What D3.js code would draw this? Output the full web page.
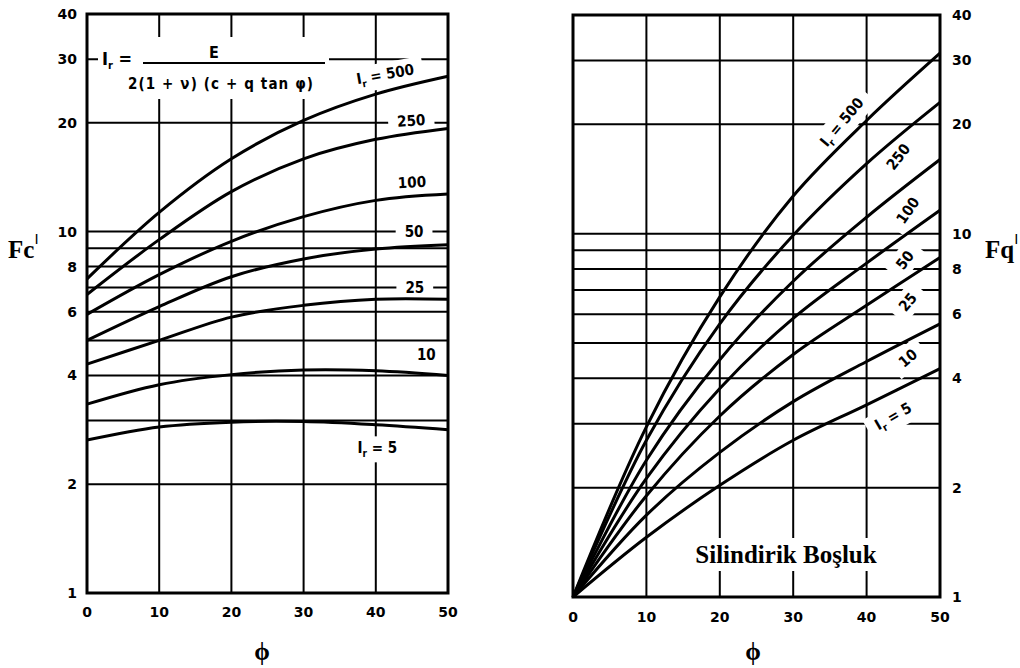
<!DOCTYPE html>
<html>
  <head>
    <meta charset="utf-8">
    <script src="https://d3js.org/d3.v7.min.js"></script>
    <style>
      body { margin: 0; background: #fff; }
      svg { display: block; }
      .tick_label { font-family: 'DejaVu Sans'; font-weight: bold; font-size: 14px; }
      .curve_label { font-family: 'DejaVu Sans Condensed'; font-weight: bold; font-size: 15px; }
      .formula { font-family: 'DejaVu Sans Condensed'; font-weight: bold; font-size: 15px; }
      .axis_title { font-family: 'Liberation Serif', 'DejaVu Serif'; font-weight: bold; font-size: 25px; }
      .prime { font-family: 'DejaVu Sans'; font-weight: normal; font-size: 14px; }
    </style>
  </head>
  <body>
    <svg></svg>
    <script>
      // friction angle (x) and rigidity index levels
      const phi = [0, 10, 20, 30, 40, 50]
      const irLevels = ['500', '250', '100', '50', '25', '10', '5']

      // Fc', one row per Ir level
      const fcValues = [
        [7.4, 11.3, 15.9, 20.3, 24.0, 26.9],
        [6.7, 9.5, 12.9, 15.9, 18.0, 19.3],
        [5.9, 7.6, 9.4, 11.0, 12.2, 12.7],
        [5.0, 6.2, 7.5, 8.4, 8.95, 9.2],
        [4.3, 5.0, 5.8, 6.25, 6.5, 6.5],
        [3.33, 3.77, 4.02, 4.14, 4.12, 4.0],
        [2.65, 2.88, 2.97, 2.98, 2.92, 2.83]
      ]

      // Fq' (cylindrical cavity)
      const fqValues = [
        [1, 2.94, 6.7, 12.7, 20.5, 31.4],
        [1, 2.7, 5.65, 9.9, 15.6, 23.0],
        [1, 2.38, 4.5, 7.4, 11.1, 16.0],
        [1, 2.12, 3.75, 5.85, 8.3, 11.6],
        [1, 1.9, 3.15, 4.65, 6.35, 8.6],
        [1, 1.68, 2.5, 3.45, 4.45, 5.65],
        [1, 1.46, 2.03, 2.7, 3.38, 4.25]
      ]

      const xTicks = [0, 10, 20, 30, 40, 50]
      const yTicks = [1, 2, 4, 6, 8, 10, 20, 30, 40]
      const hGrid = [2, 3, 4, 5, 6, 7, 8, 9, 10, 20, 30]
      const vGrid = [10, 20, 30, 40]

      // where the Ir labels sit, in chart units (phi, F)
      const fcLabelPhi = [41.3, 44.9, 45.0, 45.3, 45.4, 47.0, 40.2]
      const fcLabelF = [27.3, 20.3, 13.7, 10.0, 7.0, 4.57, 2.52]
      const fcLabelAngle = [-10, -4, -3, 0, 0, 0, 0]

      const fqLabelPhi = [36.6, 44.3, 45.6, 45.2, 45.6, 45.6, 43.6]
      const fqLabelF = [20.3, 16.3, 11.6, 8.47, 6.49, 4.55, 3.15]
      const fqLabelAngle = [-50, -52, -55, -52, -50, -40, -30]

      const width = 1020
      const height = 668

      const svg =
        d3.select('svg')
          .attr('width', width)
          .attr('height', height)

      svg.append('rect')
        .attr('width', width)
        .attr('height', height)
        .attr('fill', '#fff')

      function addBox(layer, node, transform, padX, padY) {
        const b = node.getBBox()
        layer.append('rect')
          .attr('transform', transform)
          .attr('x', b.x - padX)
          .attr('y', b.y - padY)
          .attr('width', b.width + 2 * padX)
          .attr('height', b.height + 2 * padY)
          .attr('fill', '#fff')
      }

      function drawPanel(p) {
        const x = d3.scaleLinear().domain([0, 50]).range(p.xRange)
        const y = d3.scaleLog().domain([1, 40]).range(p.yRange)

        const g = svg.append('g')
        const gridLayer = g.append('g')
        const boxLayer = g.append('g')
        const curveLayer = g.append('g')
        const textLayer = g.append('g')

        gridLayer.selectAll('.hgrid')
          .data(hGrid)
          .join('line')
            .attr('class', 'hgrid')
            .attr('x1', x(0))
            .attr('x2', x(50))
            .attr('y1', d => y(d))
            .attr('y2', d => y(d))
            .attr('stroke', '#000')
            .attr('stroke-width', 2)

        gridLayer.selectAll('.vgrid')
          .data(vGrid)
          .join('line')
            .attr('class', 'vgrid')
            .attr('x1', d => x(d))
            .attr('x2', d => x(d))
            .attr('y1', y(40))
            .attr('y2', y(1))
            .attr('stroke', '#000')
            .attr('stroke-width', 2)

        g.append('rect')
          .attr('x', x(0))
          .attr('y', y(40))
          .attr('width', x(50) - x(0))
          .attr('height', y(1) - y(40))
          .attr('fill', 'none')
          .attr('stroke', '#000')
          .attr('stroke-width', 3)

        // tick labels
        g.selectAll('.ylab')
          .data(yTicks)
          .join('text')
            .attr('class', 'tick_label')
            .attr('x', p.yLabelX)
            .attr('y', d => y(d))
            .attr('dy', '0.36em')
            .attr('text-anchor', p.yAnchor)
            .text(d => d)

        g.selectAll('.xlab')
          .data(xTicks)
          .join('text')
            .attr('class', 'tick_label')
            .attr('x', d => x(d))
            .attr('y', p.xLabelY)
            .attr('dy', '0.36em')
            .attr('text-anchor', 'middle')
            .text(d => d)

        const line = d3.line()
          .x((d, i) => x(phi[i]))
          .y(d => y(d))
          .curve(d3.curveCatmullRom.alpha(0.5))

        curveLayer.selectAll('path')
          .data(p.values)
          .join('path')
            .attr('d', line)
            .attr('fill', 'none')
            .attr('stroke', '#000')
            .attr('stroke-width', 3)

        // Ir labels with a white patch that cuts the grid behind them
        irLevels.forEach((lv, i) => {
          const tr = `translate(${x(p.labelPhi[i])},${y(p.labelF[i])}) rotate(${p.labelAngle[i]})`
          const t = textLayer.append('text')
            .attr('class', 'curve_label')
            .attr('transform', tr)
            .attr('dy', '0.36em')
            .attr('text-anchor', 'middle')
          if (i === 0 || i === irLevels.length - 1) {
            t.append('tspan').text('I')
            t.append('tspan').attr('dy', 4).attr('font-size', 10).text('r')
            t.append('tspan').attr('dy', -4).text(' = ' + lv)
          } else {
            t.text(lv)
          }
          addBox(boxLayer, t.node(), tr, 9, 3)
        })

        return {x, y, g, boxLayer, textLayer}
      }

      const left = drawPanel({
        xRange: [87, 448],
        yRange: [593, 14],
        values: fcValues,
        labelPhi: fcLabelPhi,
        labelF: fcLabelF,
        labelAngle: fcLabelAngle,
        yLabelX: 77,
        yAnchor: 'end',
        xLabelY: 612
      })

      const right = drawPanel({
        xRange: [573, 940],
        yRange: [597, 15],
        values: fqValues,
        labelPhi: fqLabelPhi,
        labelF: fqLabelF,
        labelAngle: fqLabelAngle,
        yLabelX: 952,
        yAnchor: 'start',
        xLabelY: 617
      })

      // formula for the rigidity index, top left
      const f = left.textLayer.append('g').attr('class', 'formula')
      const ir = f.append('text').attr('x', 102).attr('y', 65).attr('font-size', 18)
      ir.append('tspan').text('I')
      ir.append('tspan').attr('dy', 4).attr('font-size', 11).text('r')
      ir.append('tspan').attr('dy', -4).text(' =')
      f.append('text')
        .attr('x', 214)
        .attr('y', 58)
        .attr('text-anchor', 'middle')
        .attr('font-size', 16)
        .text('E')
      f.append('line')
        .attr('x1', 143)
        .attr('x2', 325)
        .attr('y1', 63)
        .attr('y2', 63)
        .attr('stroke', '#000')
        .attr('stroke-width', 2)
      f.append('text')
        .attr('x', 128)
        .attr('y', 89)
        .attr('textLength', 185)
        .attr('lengthAdjust', 'spacing')
        .text('2(1 + ν) (c + q tan φ)')
      addBox(left.boxLayer, f.node(), null, 4, 6)

      // cavity caption, bottom right
      const cap = right.textLayer.append('text')
        .attr('class', 'axis_title')
        .attr('x', 786)
        .attr('y', 563)
        .attr('text-anchor', 'middle')
        .attr('font-size', 26)
        .text('Silindirik Boşluk')
      addBox(right.boxLayer, cap.node(), null, 4, 3)

      // axis titles
      const fc = svg.append('text').attr('class', 'axis_title').attr('x', 8).attr('y', 258)
      fc.append('tspan').text('Fc')
      fc.append('tspan').attr('class', 'prime').attr('dy', -14).text('I')

      const fq = svg.append('text').attr('class', 'axis_title').attr('x', 985).attr('y', 258)
      fq.append('tspan').text('Fq')
      fq.append('tspan').attr('class', 'prime').attr('dy', -14).text('I')

      svg.selectAll('.phi_title')
        .data([262, 753])
        .join('text')
          .attr('class', 'axis_title')
          .attr('x', d => d)
          .attr('y', 660)
          .attr('text-anchor', 'middle')
          .attr('font-weight', 'normal')
          .text('ϕ')
    </script>
  </body>
</html>
